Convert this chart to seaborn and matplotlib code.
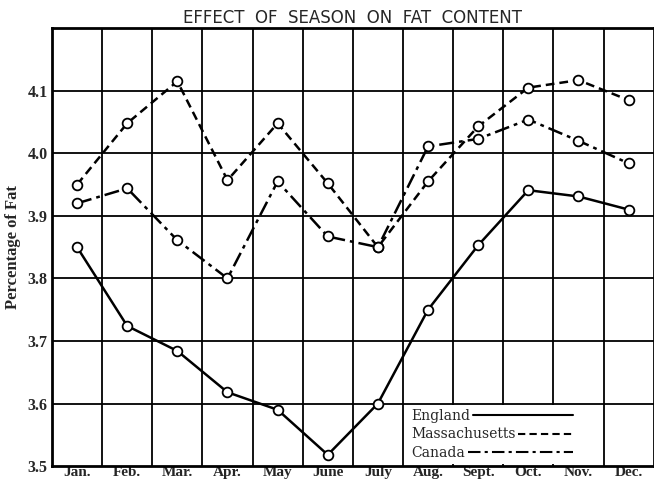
import pandas as pd
import numpy as np
import matplotlib.pyplot as plt
import seaborn as sns
from matplotlib.lines import Line2D
from matplotlib.legend_handler import HandlerLine2D

# Monthly fat percentages
months = ["Jan.", "Feb.", "Mar.", "Apr.", "May", "June",
          "July", "Aug.", "Sept.", "Oct.", "Nov.", "Dec."]
england = [3.85, 3.724, 3.684, 3.618, 3.59, 3.518,
           3.60, 3.75, 3.853, 3.941, 3.931, 3.91]
massachusetts = [3.95, 4.048, 4.115, 3.957, 4.048, 3.952,
                 3.85, 3.955, 4.043, 4.105, 4.117, 4.085]
canada = [3.92, 3.944, 3.861, 3.80, 3.955, 3.867,
          3.85, 4.011, 4.023, 4.054, 4.02, 3.984]
y_ticks = [3.5, 3.6, 3.7, 3.8, 3.9, 4.0, 4.1]

series = {
    "England": (england, "-"),
    "Massachusetts": (massachusetts, (0, (3.5, 2))),
    "Canada": (canada, (0, (6, 2, 1.5, 2))),
}


# legend line that is stretched to the right so all lines end at the same x
class StretchedLine(HandlerLine2D):
    def __init__(self, extra, **kw):
        super().__init__(**kw)
        self.extra = extra

    def create_artists(self, legend, orig_handle, xdescent, ydescent,
                       width, height, fontsize, trans):
        return super().create_artists(legend, orig_handle, xdescent, ydescent,
                                      width + self.extra, height, fontsize, trans)


sns.set_style("white")
plt.rcParams["font.family"] = ["Liberation Serif", "DejaVu Serif"]

fig = plt.figure(figsize=(6.54, 4.86), dpi=100)
ax = fig.add_axes([0.0795, 0.041, 0.92, 0.901])

x = np.arange(len(months))

# grid: horizontal at tick values, vertical at month boundaries
for yv in y_ticks[1:]:
    ax.axhline(yv, color="black", lw=1.3, zorder=1)
for xv in x[:-1] + 0.5:
    ax.axvline(xv, color="black", lw=1.3, zorder=1)

for name, (vals, ls) in series.items():
    sns.lineplot(x=x, y=vals, ax=ax, color="black", linestyle=ls, lw=1.8,
                 marker="o", markersize=7, markerfacecolor="white",
                 markeredgecolor="black", markeredgewidth=1.3, zorder=3)

ax.set_xlim(-0.5, 11.5)
ax.set_ylim(3.5, 4.2)
ax.set_xticks(x)
ax.set_xticklabels(months)
ax.set_yticks(y_ticks)
ax.set_yticklabels([f"{v:.1f}" for v in y_ticks])
ax.tick_params(length=0)
ax.tick_params(axis="x", pad=0, labelsize=11)
ax.tick_params(axis="y", pad=3, labelsize=11.5)
for lab in ax.get_xticklabels() + ax.get_yticklabels():
    lab.set_fontweight("bold")

for side in ["left", "top", "bottom", "right"]:
    ax.spines[side].set_visible(True)
    ax.spines[side].set_color("black")
    ax.spines[side].set_linewidth(2)
    ax.spines[side].set_zorder(6)

ax.set_ylabel("Percentage of Fat", fontsize=12, fontweight="bold", labelpad=5)
ax.set_xlabel("")
ax.set_title("EFFECT  OF  SEASON  ON  FAT  CONTENT", fontsize=12,
             family="DejaVu Sans", pad=4)

handles = [Line2D([], [], color="black", lw=1.5, linestyle=ls)
           for _, (vals, ls) in series.items()]
labels = list(series.keys())


def make_legend(extras):
    leg = ax.legend(handles, labels, loc="lower left",
                    bbox_to_anchor=(6.58, 3.503, 3.89, 0.09),
                    bbox_transform=ax.transData, mode="expand",
                    markerfirst=False, handlelength=3.9,
                    prop={"family": "DejaVu Serif", "size": 10},
                    frameon=True, fancybox=False, borderaxespad=0,
                    borderpad=0.3, labelspacing=0.33, handletextpad=0.2,
                    handler_map={h: StretchedLine(e) for h, e in zip(handles, extras)})
    for col in leg._legend_handle_box.get_children():
        col.align = "left"
    leg.get_frame().set_facecolor("white")
    leg.get_frame().set_edgecolor("none")
    leg.get_frame().set_alpha(1)
    leg.set_zorder(5)
    return leg


leg = make_legend([0, 0, 0])
fig.canvas.draw()
widths = [t.get_window_extent().width * 72 / fig.dpi for t in leg.get_texts()]
leg.remove()
make_legend([max(widths) - w for w in widths])

plt.savefig("out.png", dpi=100)
